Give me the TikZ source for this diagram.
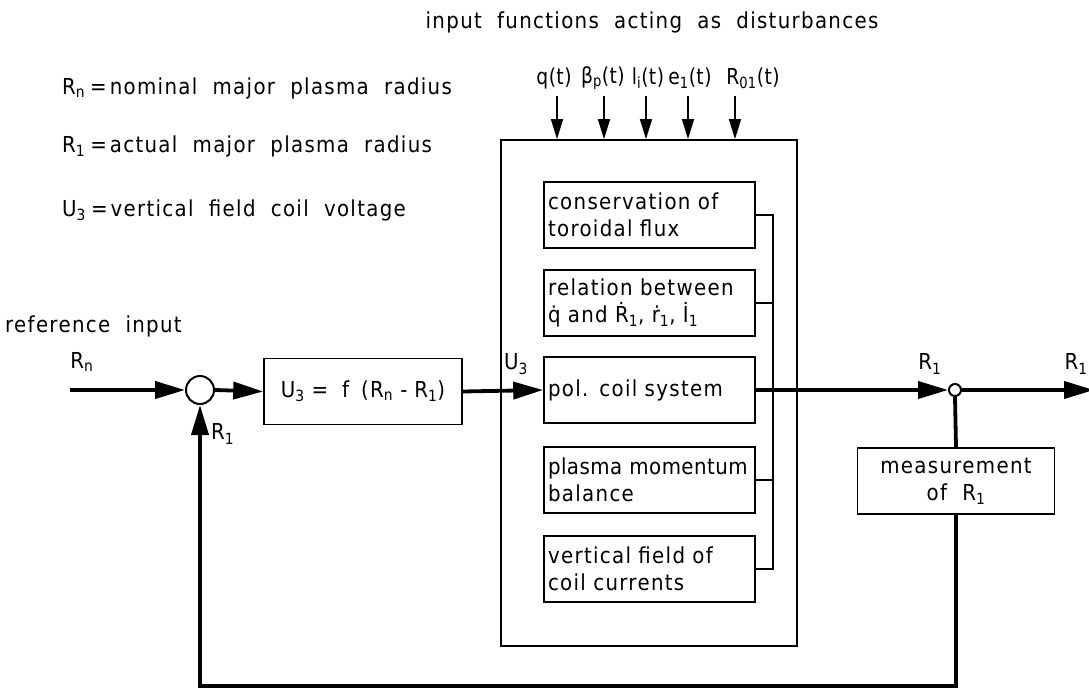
\documentclass[tikz,border=0pt]{standalone}
\usepackage{fontspec}
\setmainfont{DejaVu Sans}[FakeStretch=0.9,WordSpace=2,LetterSpace=6]
\newfontfamily\tightfont{DejaVu Sans}[FakeStretch=0.85,LetterSpace=2]
\usetikzlibrary{arrows.meta}
\newcommand{\sbs}[1]{\textsubscript{#1}}
\begin{document}
\begin{tikzpicture}[x=1pt,y=-1pt,
  every node/.style={font=\fontsize{22}{27}\selectfont, inner sep=0pt},
  blk/.style={draw, line width=1.6pt, minimum width=#1, minimum height=66pt},
  inbox/.style={draw, line width=1.6pt, minimum width=211pt, minimum height=66pt, text width=203pt, align=left},
  sig/.style={line width=3.8pt},
  sigar/.style={line width=3.8pt, -{Triangle[length=30pt,width=17pt]}},
  thin/.style={line width=1.6pt},
  disar/.style={line width=1.6pt, -{Triangle[length=20pt,width=12pt]}},
  dlbl/.style={font=\tightfont\fontsize{22}{27}\selectfont}
]
\clip (0,0) rectangle (1089,688);
\fill[white] (0,0) rectangle (1089,688);

% title and legend
\node (title) at (652,22) {input functions acting as disturbances};
\node[anchor=west] (leg1) at (62,88) {R\sbs{n}\hspace{5pt}=\hspace{3pt}nominal major plasma radius};
\node[anchor=west] (leg2) at (62,146) {R\sbs{1}\hspace{5pt}=\hspace{3pt}actual major plasma radius};
\node[anchor=west] (leg3) at (62,210) {U\sbs{3}\hspace{5pt}=\hspace{3pt}vertical field coil voltage};

% big box
\node[draw, line width=1.8pt, minimum width=296pt, minimum height=506pt] (big) at (649,393) {};

% inner boxes
\node[inbox] (b1) at (649.5,215) {conservation of\\toroidal flux};
\node[inbox] (b2) at (649.5,303) {relation between\\\.{q} and \.{R}\sbs{1}, \.{r}\sbs{1}, \.{I}\sbs{1}};
\node[inbox] (pol) at (649.5,390) {pol. coil system};
\node[inbox] (b4) at (649.5,480) {\mbox{\addfontfeature{LetterSpace=2}plasma momentum}\\balance};
\node[inbox] (b5) at (649.5,569) {vertical field of\\coil currents};

% bracket
\coordinate (brt) at (773,215);
\coordinate (brb) at (773,569);
\draw[thin] (b1.east) -- (brt) -- (brb) -- (b5.east);
\draw[thin] (b2.east) -- (b2.east -| brt);
\draw[thin] (b4.east) -- (b4.east -| brt);

% disturbances
\foreach \n/\x in {d1/557, d2/604, d3/646, d4/688, d5/735}{
  \coordinate (\n) at (\x,96);
  \draw[disar] (\n) -- (\n |- big.north);
}
\node[dlbl] (t1) at (554,78) {q(t)};
\node[dlbl] (t2) at (603,78) {β\sbs{p}(t)};
\node[dlbl] (t3) at (648,78) {l\sbs{i}(t)};
\node[dlbl] (t4) at (690,78) {e\sbs{1}(t)};
\node[dlbl] (t5) at (753,78) {R\sbs{01}(t)};

% main loop
\coordinate (inp) at (70,390);
\node[draw, circle, line width=2pt, minimum size=28pt] (sum) at (200,390) {};
\node[blk=198pt] (ctrl) at (363,391.5) {U\sbs{3}\hspace{7pt}=\hspace{14pt}f\hspace{12pt}(R\sbs{n}\hspace{7pt}-\hspace{7pt}R\sbs{1})};
\node[draw, circle, line width=2pt, minimum size=12pt, fill=white] (pick) at (955,390) {};
\coordinate (out) at (1094,390);
\node[blk=197pt, align=center] (meas) at (956,481) {measurement\\of R\sbs{1}};

\draw[sigar] (inp) -- (sum.west);
\draw[sigar] (sum.east) -- (ctrl.west);
\draw[sigar] (ctrl.east) -- (pol.west);
\draw[sigar] (pol.east) -- (pick.west);
\draw[sigar] (pick.east) -- (out);
\draw[sig] (pick.south) -- (meas.north);
\coordinate (fb) at (200,686);
\draw[sigar] (meas.south) |- (fb) -- (sum.south);

% labels
\node[anchor=west] (refin) at (5,326) {reference input};
\node (lrn) at (82,362) {R\sbs{n}};
\node[anchor=west] (lr1a) at (211,434) {R\sbs{1}};
\node (lu3) at (516,364) {U\sbs{3}};
\node (lr1b) at (930,364) {R\sbs{1}};
\node[anchor=east] (lr1c) at (1088,364) {R\sbs{1}};
\end{tikzpicture}
\end{document}
